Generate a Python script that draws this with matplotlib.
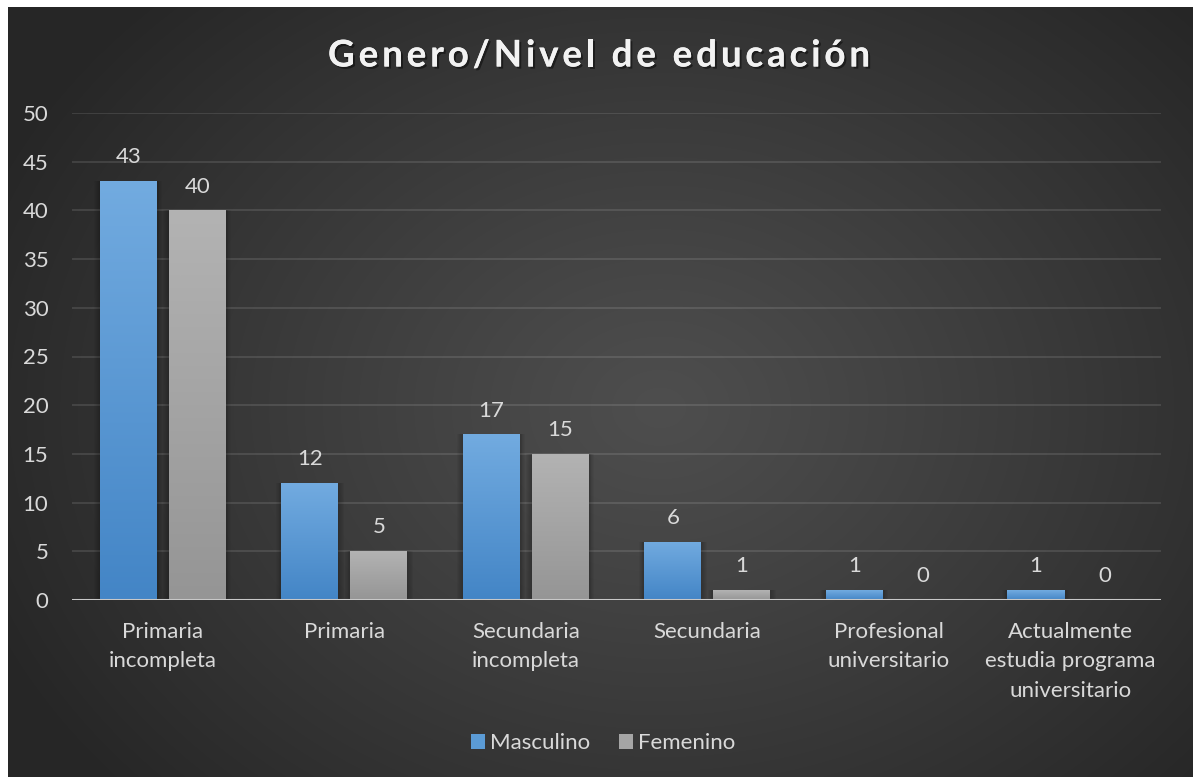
import numpy as np
import matplotlib
matplotlib.use("Agg")
import matplotlib.pyplot as plt
from matplotlib.patches import Patch, Rectangle
from matplotlib import patheffects as pe
from matplotlib.colors import to_rgb

# ---- data ----
categories = ["Primaria\nincompleta", "Primaria", "Secundaria\nincompleta",
              "Secundaria", "Profesional\nuniversitario",
              "Actualmente\nestudia programa\nuniversitario"]
masculino = [43, 12, 17, 6, 1, 1]
femenino = [40, 5, 15, 1, 0, 0]
series_names = ["Masculino", "Femenino"]
title = "Genero/Nivel de educación"
yticks = [0, 5, 10, 15, 20, 25, 30, 35, 40, 45, 50]

FONT = "Lato"
FS = 16
TXT = "#d9d9d9"
W, H = 1193, 777
fig = plt.figure(figsize=(W / 100, H / 100), dpi=100)
fig.patch.set_facecolor("white")

# ---- background with radial gradient ----
bx0, by0 = 8, 7
bg = fig.add_axes([bx0 / W, 0, (W - bx0) / W, (H - by0) / H])
bg.set_axis_off()
gw, gh = W - bx0, H - by0
yy, xx = np.mgrid[0:gh, 0:gw]
cx, cy = gw * 0.55, gh * 0.52
r = np.sqrt(((xx - cx) / (gw * 0.62)) ** 2 + ((yy - cy) / (gh * 0.75)) ** 2)
t = np.clip(r, 0, 1) ** 1.1
c0 = np.array(to_rgb("#4e4e4e"))
c1 = np.array(to_rgb("#262626"))
img = c0[None, None, :] * (1 - t[..., None]) + c1[None, None, :] * t[..., None]
bg.imshow(img, aspect="auto", extent=[0, 1, 0, 1], origin="upper")
bg.set_xlim(0, 1)
bg.set_ylim(0, 1)

# ---- main axes ----
pl, pr, pt, pb = 72, 1161, 113, 600
ax = fig.add_axes([pl / W, (H - pb) / H, (pr - pl) / W, (pb - pt) / H])
ax.patch.set_alpha(0)
n = len(categories)
ax.set_xlim(-0.5, n - 0.5)
ax.set_ylim(0, 50)
for s in ax.spines.values():
    s.set_visible(False)
ax.set_yticks(yticks)
ax.yaxis.grid(True, color="#ffffff", alpha=0.12, lw=1.3)
ax.set_axisbelow(True)
ax.tick_params(axis="both", length=0, colors=TXT, labelsize=FS)
ax.tick_params(axis="y", pad=17)
ax.tick_params(axis="x", pad=15.5)
for lab in ax.get_yticklabels():
    lab.set_fontfamily(FONT)
ax.set_xticks(range(n))
ax.set_xticklabels(categories, fontfamily=FONT, fontsize=FS, color=TXT,
                   linespacing=1.62, va="top")

bw = 57 / 181.5
gap = 12 / 181.5
x = np.arange(n)
offs = [-(bw + gap) / 2, (bw + gap) / 2]
grads = [("#72abe0", "#4385c6"), ("#b3b3b3", "#959595")]
pxx = 1 / 181.5
pxy = 50 / 487

for si, vals in enumerate([masculino, femenino]):
    bars = ax.bar(x + offs[si], vals, width=bw, color="none", zorder=3)
    top_c, bot_c = grads[si]
    for b, v in zip(bars, vals):
        if v <= 0:
            continue
        x0, w_ = b.get_x(), b.get_width()
        # soft shadow
        for k in range(1, 7):
            ax.add_patch(Rectangle((x0 - k * 0.9 * pxx, -k * 0.6 * pxy),
                                   w_ + 2 * k * 0.9 * pxx, v + k * 0.6 * pxy,
                                   facecolor="black", alpha=0.035, lw=0, zorder=2))
        grad = np.linspace(0, 1, 256)[:, None]
        ct, cb = np.array(to_rgb(top_c)), np.array(to_rgb(bot_c))
        gimg = ct[None, None, :] * (1 - grad[..., None]) + cb[None, None, :] * grad[..., None]
        im = ax.imshow(gimg, extent=[x0, x0 + w_, 0, v], aspect="auto",
                       origin="upper", zorder=3)
        im.set_clip_path(b)
    for xi, v in zip(x + offs[si], vals):
        ax.annotate(f"{v}", (xi, v), xytext=(0, 10), textcoords="offset points",
                    ha="center", va="bottom", fontsize=FS, color=TXT,
                    fontfamily=FONT, zorder=6)

ax.set_xlim(-0.5, n - 0.5)
ax.set_ylim(0, 50)
ax.axhline(0, color="#c8c8c8", lw=2.2, zorder=5)

# ---- legend ----
handles = [Patch(facecolor="#5b9bd5", edgecolor="none"),
           Patch(facecolor="#a5a5a5", edgecolor="none")]
leg = fig.legend(handles, series_names, loc="center", bbox_to_anchor=(603 / W, 1 - 743 / H),
                 ncol=2, frameon=False, handlelength=0.65, handleheight=0.65,
                 handletextpad=0.2, columnspacing=1.3,
                 prop={"family": FONT, "size": FS})
for tx in leg.get_texts():
    tx.set_color(TXT)

# ---- title with letter spacing ----
fig.canvas.draw()
renderer = fig.canvas.get_renderer()
tfs = 26.5
probe = fig.text(0, 0, "x", fontsize=tfs, fontweight="bold", fontfamily=FONT)

def width_of(s):
    probe.set_text(s + "x")
    w1 = probe.get_window_extent(renderer).width
    probe.set_text("x")
    w2 = probe.get_window_extent(renderer).width
    return w1 - w2

natural = width_of(title)
target = 542
spacing = max(0.0, (target - natural) / (len(title) - 1))
start = 599 - (natural + spacing * (len(title) - 1)) / 2
positions = [start + width_of(title[:i]) + i * spacing for i in range(len(title))]
probe.remove()
ty = H - 56
for ch, xpos in zip(title, positions):
    if ch == " ":
        continue
    fig.text(xpos / W, ty / H, ch, fontsize=tfs, fontweight="bold", fontfamily=FONT,
             color="#f2f2f2", ha="left", va="center",
             path_effects=[pe.withSimplePatchShadow(offset=(1.5, -1.5), shadow_rgbFace="black", alpha=0.45),
                           pe.Normal()])

fig.savefig("out.png", dpi=100, facecolor="white")
